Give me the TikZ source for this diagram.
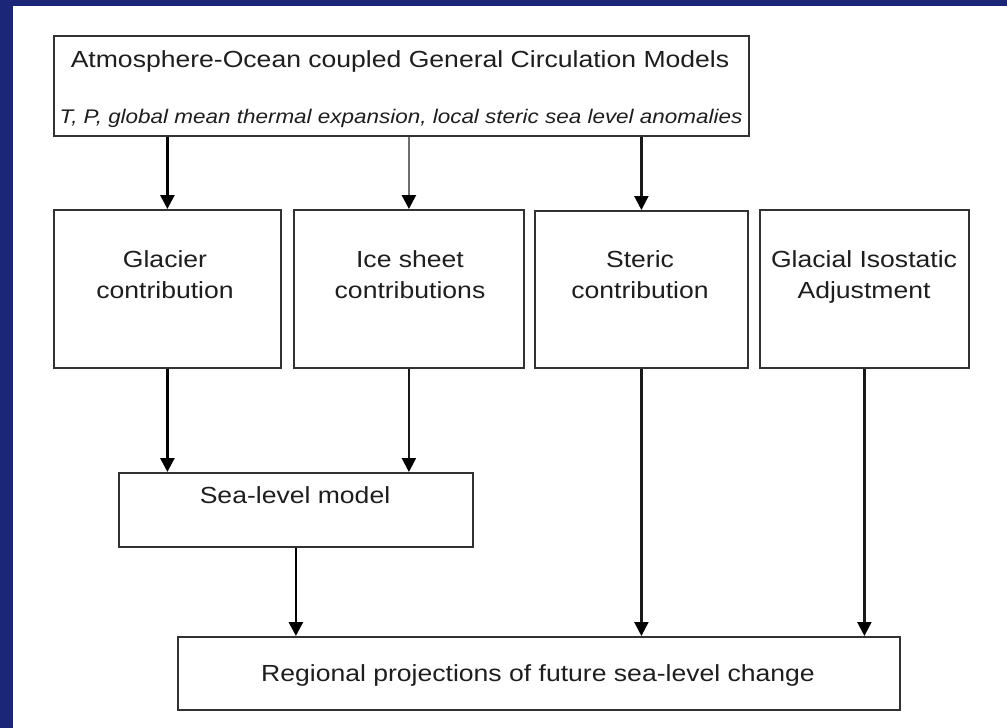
\documentclass[tikz,border=0pt]{standalone}
\usepackage{fontspec}
\setmainfont{Liberation Sans}[FakeStretch=1.14]
\usetikzlibrary{arrows.meta}
\definecolor{navy}{RGB}{27,38,120}
\definecolor{boxline}{RGB}{50,50,50}
\definecolor{shaftgray}{RGB}{110,110,110}
\definecolor{txt}{RGB}{30,30,30}
\begin{document}
\begin{tikzpicture}[x=1pt,y=-1pt,
  box/.style={draw=boxline,line width=1.8pt,anchor=north west,inner sep=0pt,fill=white},
  lbl/.style={anchor=base,inner sep=0pt,text=txt,font=\fontsize{23.3}{28}\selectfont},
  ilbl/.style={anchor=base,inner sep=0pt,text=txt,font=\fontsize{19.7}{24}\selectfont\itshape},
  tipk/.style={-{Triangle[width=14pt,length=14pt,color=black]}},
  arrK/.style={tipk,draw=black,line width=2.8pt},
  arrG/.style={tipk,draw=shaftgray,line width=2.6pt},
  arrT/.style={tipk,draw=black!90,line width=2.2pt}]
\useasboundingbox (0,0) rectangle (1007,728);
\fill[navy] (0,0) rectangle (1007,728);
\fill[white] (13,6) rectangle (1007,728);
% boxes
\node[box,minimum width=695pt,minimum height=100pt] (aogcm) at (53,35) {};
\node[box,minimum width=227pt,minimum height=158pt] (glacier) at (53,209) {};
\node[box,minimum width=230pt,minimum height=158pt] (ice) at (293,209) {};
\node[box,minimum width=213pt,minimum height=157pt] (steric) at (534,210) {};
\node[box,minimum width=209pt,minimum height=158pt] (gia) at (759,209) {};
\node[box,minimum width=354pt,minimum height=74pt] (sea) at (118,472) {};
\node[box,minimum width=722pt,minimum height=73pt] (regional) at (177,636) {};
% labels
\node[lbl] (aogcmT) at (400,67) {Atmosphere-Ocean coupled General Circulation Models};
\node[ilbl] (aogcmI) at (401,123) {T, P, global mean thermal expansion, local steric sea level anomalies};
\node[lbl] (glacierA) at (165,267) {Glacier};
\node[lbl] (glacierB) at (165,298) {contribution};
\node[lbl] (iceA) at (410,267) {Ice sheet};
\node[lbl] (iceB) at (410,298) {contributions};
\node[lbl] (stericA) at (640,267) {Steric};
\node[lbl] (stericB) at (640,298) {contribution};
\node[lbl] (giaA) at (864,267) {Glacial Isostatic};
\node[lbl] (giaB) at (864,298) {Adjustment};
\node[lbl] (seaT) at (295,503) {Sea-level model};
\node[lbl] (regionalT) at (538,681) {Regional projections of future sea-level change};
% connectors
\draw[arrK] (aogcm.south -| glacier.north) -- (glacier.north);
\draw[arrG] (aogcm.south -| ice.north) -- (ice.north);
\draw[arrT] (aogcm.south -| steric.north) -- (steric.north);
\draw[arrK] (glacier.south) -- (glacier.south |- sea.north);
\draw[arrT] (ice.south) -- (ice.south |- sea.north);
\draw[arrK] (sea.south) -- (sea.south |- regional.north);
\draw[arrT] (steric.south) -- (steric.south |- regional.north);
\draw[arrT] (gia.south) -- (gia.south |- regional.north);
\end{tikzpicture}
\end{document}
